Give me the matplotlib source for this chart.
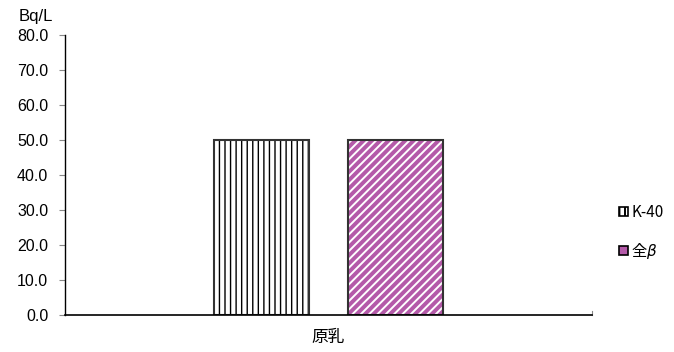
import matplotlib
matplotlib.use('Agg')
import matplotlib.pyplot as plt

# Values per category (Bq/L).
categories = ['原乳']
k40_values = [50.0]
beta_values = [50.1]
series_labels = ['K-40', '全$\\beta$']
y_ticks = [0, 10, 20, 30, 40, 50, 60, 70, 80]

PURPLE = '#b45aa9'

plt.rcParams['font.family'] = ['Liberation Sans', 'Noto Sans CJK JP', 'DejaVu Sans']
plt.rcParams['font.size'] = 11

fig = plt.figure(figsize=(6.74, 3.52), dpi=100)
ax = fig.add_axes([0.0964, 0.105, 0.782, 0.796])

width = 0.18
gap = 0.074
xs = list(range(len(categories)))
x_k40 = [x - (width + gap) / 2 for x in xs]
x_beta = [x + (width + gap) / 2 for x in xs]

# K-40: white with dense vertical black lines.
ax.bar(x_k40, k40_values, width, color='white', edgecolor='black',
       hatch='|||', linewidth=0)
ax.bar(x_k40, k40_values, width, fill=False, edgecolor='#333333', linewidth=1.5)

# Total beta: purple with white diagonal stripes.
plt.rcParams['hatch.linewidth'] = 1.4
ax.bar(x_beta, beta_values, width, color=PURPLE, edgecolor='white',
       hatch='////', linewidth=0)
ax.bar(x_beta, beta_values, width, fill=False, edgecolor='#333333', linewidth=1.5)

ax.set_xlim(-0.5, len(categories) - 0.5)
ax.set_ylim(0, 80)
ax.set_yticks(y_ticks)
ax.set_yticklabels(['%.1f' % v for v in y_ticks], fontsize=11.5)
ax.set_xticks(xs)
ax.set_xticklabels(categories, fontsize=12,
                   family=['Noto Sans CJK JP', 'DejaVu Sans'])
ax.tick_params(axis='x', length=0, pad=10)
ax.tick_params(axis='y', length=4, direction='out', width=0.8, color='#888888', pad=8)

for side in ['top', 'right']:
    ax.spines[side].set_visible(False)
ax.spines['left'].set_linewidth(1.0)
ax.spines['bottom'].set_linewidth(1.2)

# small end tick on the right of the x axis
ax.plot([1.0, 1.0], [0, 0.015], transform=ax.transAxes, color='#888888',
        lw=0.8, clip_on=False)

fig.text(53 / 674, 1 - 24 / 352, 'Bq/L', ha='right', va='bottom', fontsize=12)

# Legend
handles = [
    plt.Rectangle((0, 0), 1, 1, facecolor='white', edgecolor='black',
                  hatch='|||', linewidth=1.2),
    plt.Rectangle((0, 0), 1, 1, facecolor=PURPLE, edgecolor='black',
                  linewidth=1.2),
]
fig.legend(handles, series_labels, loc='center left',
           bbox_to_anchor=(0.898, 0.34), frameon=False, handlelength=0.6,
           handleheight=0.6, handletextpad=0.2, labelspacing=1.3,
           prop={'family': ['Noto Sans CJK JP', 'DejaVu Sans'], 'size': 11})

fig.savefig('out.png', dpi=100)
